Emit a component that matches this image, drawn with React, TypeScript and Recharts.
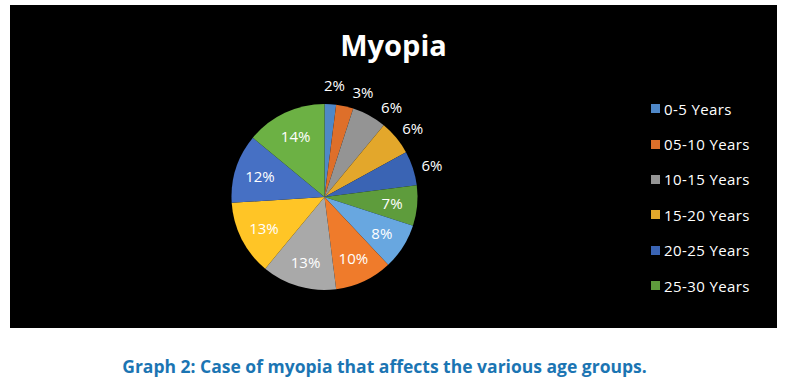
import { PieChart, Pie, Cell } from "recharts";

const ageGroups = [
  "0-5 Years",
  "05-10 Years",
  "10-15 Years",
  "15-20 Years",
  "20-25 Years",
  "25-30 Years",
  "30-35 Years",
  "35-40 Years",
  "40-45 Years",
  "45-50 Years",
  "50-55 Years",
  "55-60 Years",
];

const percentages = [2, 3, 6, 6, 6, 7, 8, 10, 13, 13, 12, 14];

const sliceColors = [
  "#4f88c8", "#de6f2a", "#949494", "#e3a72b", "#3a64b4", "#5e9c3c",
  "#68a7e0", "#ef7b2b", "#a9a9a9", "#ffc526", "#4670c4", "#6cb144",
];

// Excel only showed the first six series in its legend
const legendCount = 6;

const data = ageGroups.map((name, i) => ({ name, value: percentages[i] }));

const RADIAN = Math.PI / 180;
const OUTER = 93;
const INSIDE_MIN = 7;
const OUT_R = OUTER + 19;

// clockwise angle from 12 o'clock for each label, outside labels nudged apart
const total = percentages.reduce((a, b) => a + b, 0);
const labelAngles: number[] = [];
{
  let acc = 0;
  let prev: { x: number; y: number } | null = null;
  percentages.forEach((v) => {
    let a = ((acc + v / 2) / total) * 360;
    acc += v;
    if (v < INSIDE_MIN) {
      a += 1.5;
      const pos = (ang: number) => ({ x: OUT_R * Math.sin(ang * RADIAN), y: -OUT_R * Math.cos(ang * RADIAN) });
      let p = pos(a);
      while (prev && Math.abs(p.x - prev.x) < 28 && Math.abs(p.y - prev.y) < 16) {
        a += 0.5;
        p = pos(a);
      }
      prev = p;
    }
    labelAngles.push(a);
  });
}

const renderLabel = (props: any) => {
  const { cx, cy, outerRadius, value, index } = props;
  const inside = value >= INSIDE_MIN;
  const r = inside ? outerRadius * 0.73 : OUT_R;
  const a = labelAngles[index] * RADIAN;
  const x = cx + r * Math.sin(a);
  const y = cy - r * Math.cos(a);
  return (
    <text
      x={x}
      y={y}
      fill="#ffffff"
      fontSize={15}
      fontFamily="'Open Sans', sans-serif"
      textAnchor="middle"
      dominantBaseline="central"
    >
      {`${value}%`}
    </text>
  );
};

export default function App() {
  return (
    <div style={{ position: "absolute", left: 0, top: 0, width: 795, height: 383, background: "#ffffff" }}>
      <div style={{ position: "absolute", left: 10, top: 5, width: 767, height: 323, background: "#000000" }}>
        <div
          style={{
            position: "absolute",
            left: 0,
            top: 20,
            width: 767,
            textAlign: "center",
            color: "#ffffff",
            fontFamily: "'Open Sans', sans-serif",
            fontWeight: 700,
            fontSize: 29,
            lineHeight: "40px",
          }}
        >
          Myopia
        </div>
        <div style={{ position: "absolute", left: 0, top: 0 }}>
          <PieChart width={767} height={323} margin={{ top: 0, right: 0, bottom: 0, left: 0 }}>
            <Pie
              data={data}
              dataKey="value"
              nameKey="name"
              cx={314.5}
              cy={192}
              outerRadius={OUTER}
              startAngle={90}
              endAngle={-270}
              stroke="none"
              label={renderLabel}
              labelLine={false}
              isAnimationActive={false}
            >
              {data.map((d, i) => (
                <Cell key={d.name} fill={sliceColors[i]} />
              ))}
            </Pie>
          </PieChart>
        </div>
        <div style={{ position: "absolute", left: 641, top: 86, fontFamily: "'Open Sans', sans-serif" }}>
          {ageGroups.slice(0, legendCount).map((name, i) => (
            <div
              key={name}
              style={{ display: "flex", alignItems: "center", height: 35.4, color: "#ffffff", fontSize: 15, letterSpacing: 0.4 }}
            >
              <span style={{ width: 9, height: 9, background: sliceColors[i], marginRight: 4, display: "inline-block" }} />
              {name}
            </div>
          ))}
        </div>
      </div>
      <div
        style={{
          position: "absolute",
          left: 0,
          top: 354,
          width: 769,
          textAlign: "center",
          color: "#1b75b3",
          fontFamily: "'Open Sans', sans-serif",
          fontWeight: 700,
          fontSize: 17.5,
        }}
      >
        Graph 2: Case of myopia that affects the various age groups.
      </div>
    </div>
  );
}
